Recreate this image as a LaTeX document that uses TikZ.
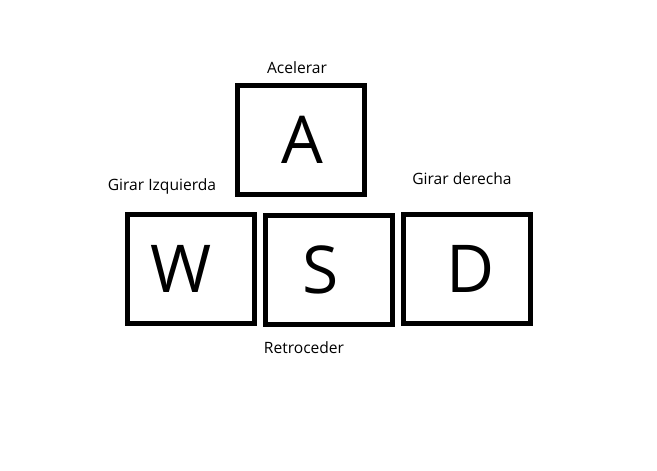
\documentclass[tikz,border=0pt]{standalone}
\usepackage{fontspec}
\setmainfont{Open Sans}

\begin{document}
\begin{tikzpicture}[x=1pt, y=-1pt,
	keybox/.style={draw=black, line width=4.6pt, minimum width=127pt, minimum height=109pt, inner sep=0pt},
	keyletter/.style={font=\fontsize{66}{66}\selectfont, inner sep=0pt},
	keylabel/.style={font=\fontsize{15.6}{17}\selectfont, anchor=base, inner sep=0pt}]
	\useasboundingbox[fill=white] (0,0) rectangle (657,471);
	% keys
	\node[keybox] (a) at (301,140) {};
	\node[keybox] (w) at (190.75,269) {};
	\node[keybox] (s) at (328.75,269.75) {};
	\node[keybox] (d) at (466.75,269) {};
	\node[keyletter, xshift=1pt] (la) at (a) {A};
	\node[keyletter, xshift=-10pt] (lw) at (w) {W};
	\node[keyletter, xshift=-8pt] (ls) at (s) {S};
	\node[keyletter, xshift=4pt] (ld) at (d) {D};
	% actions
	\node[keylabel] (acelerar) at (297,73) {Acelerar};
	\node[keylabel] (izq) at (162,190) {Girar Izquierda};
	\node[keylabel] (der) at (462,184) {Girar derecha};
	\node[keylabel] (retro) at (304,353) {Retroceder};
\end{tikzpicture}
\end{document}
